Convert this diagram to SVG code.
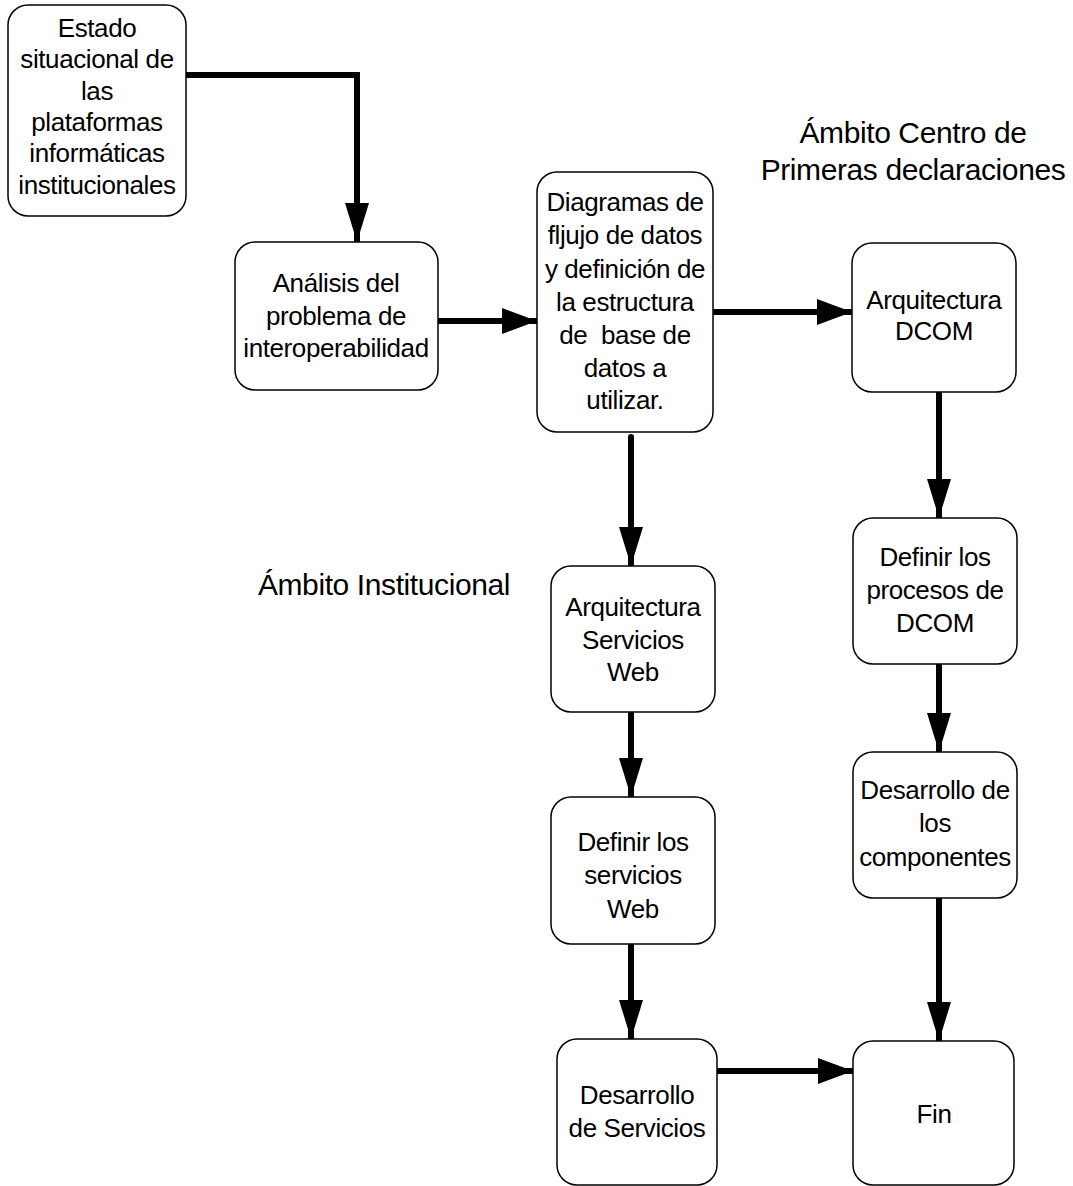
<svg xmlns="http://www.w3.org/2000/svg" width="1073" height="1186" viewBox="0 0 1073 1186">
<defs>
<style>
.box{fill:#fff;stroke:#000;stroke-width:1.5}
.t{font-family:"Liberation Sans",Arial,sans-serif;font-size:26px;letter-spacing:-0.4px;fill:#000;text-anchor:middle}
.h{font-family:"Liberation Sans",Arial,sans-serif;font-size:30px;letter-spacing:-0.4px;fill:#000;text-anchor:middle}
.c{fill:none;stroke:#000;stroke-width:6;stroke-linejoin:miter}
.cr{fill:none;stroke:#000;stroke-width:6;stroke-linecap:round}
</style>
<marker id="ah" markerUnits="userSpaceOnUse" markerWidth="36" markerHeight="26" refX="35" refY="13" orient="auto" viewBox="0 0 36 26">
<path d="M0,0 L35,13 L0,26 z" fill="#000"/>
</marker>
<marker id="av" markerUnits="userSpaceOnUse" markerWidth="40" markerHeight="24" refX="39" refY="12" orient="auto" viewBox="0 0 40 24">
<path d="M0,0 L39,12 L0,24 z" fill="#000"/>
</marker>
</defs>
<rect width="1073" height="1186" fill="#fff"/>
<g id="labels">
<text class="h" x="913" y="143">Ámbito Centro de</text>
<text class="h" x="913" y="180">Primeras declaraciones</text>
<text class="h" x="384" y="595">Ámbito Institucional</text>
</g>
<g id="connectors">
<path class="c" d="M186,75 H357 V242" marker-end="url(#av)"/>
<path class="c" d="M438,321 H537" marker-end="url(#ah)"/>
<path class="c" d="M713,312 H852" marker-end="url(#ah)"/>
<path class="cr" d="M631,437 V566" marker-end="url(#av)"/>
<path class="c" d="M939,392 V518" marker-end="url(#av)"/>
<path class="c" d="M939,664 V752" marker-end="url(#av)"/>
<path class="c" d="M631,712 V797" marker-end="url(#av)"/>
<path class="c" d="M631,944 V1039" marker-end="url(#av)"/>
<path class="c" d="M939,898 V1041" marker-end="url(#av)"/>
<path class="c" d="M717,1071 H853" marker-end="url(#ah)"/>
</g>
<g id="n1">
<rect class="box" x="8" y="5" width="178" height="211" rx="20"/>
<text class="t" x="97" y="37">Estado</text>
<text class="t" x="97" y="68">situacional de</text>
<text class="t" x="97" y="100">las</text>
<text class="t" x="97" y="131">plataformas</text>
<text class="t" x="97" y="162">informáticas</text>
<text class="t" x="97" y="194">institucionales</text>
</g>
<g id="n2">
<rect class="box" x="235" y="242" width="203" height="148" rx="20"/>
<text class="t" x="336" y="292">Análisis del</text>
<text class="t" x="336" y="325">problema de</text>
<text class="t" x="336" y="357">interoperabilidad</text>
</g>
<g id="n3">
<rect class="box" x="537" y="172" width="176" height="260" rx="20"/>
<text class="t" x="625" y="211">Diagramas de</text>
<text class="t" x="625" y="244">fljujo de datos</text>
<text class="t" x="625" y="278">y definición de</text>
<text class="t" x="625" y="311">la estructura</text>
<text class="t" x="625" y="344" xml:space="preserve">de  base de</text>
<text class="t" x="625" y="377">datos a</text>
<text class="t" x="625" y="409">utilizar.</text>
</g>
<g id="n4">
<rect class="box" x="852" y="243" width="164" height="149" rx="20"/>
<text class="t" x="934" y="309">Arquitectura</text>
<text class="t" x="934" y="340">DCOM</text>
</g>
<g id="n5">
<rect class="box" x="551" y="566" width="164" height="146" rx="20"/>
<text class="t" x="633" y="616">Arquitectura</text>
<text class="t" x="633" y="649">Servicios</text>
<text class="t" x="633" y="681">Web</text>
</g>
<g id="n6">
<rect class="box" x="853" y="518" width="164" height="146" rx="20"/>
<text class="t" x="935" y="566">Definir los</text>
<text class="t" x="935" y="599">procesos de</text>
<text class="t" x="935" y="632">DCOM</text>
</g>
<g id="n7">
<rect class="box" x="853" y="752" width="164" height="146" rx="20"/>
<text class="t" x="935" y="799">Desarrollo de</text>
<text class="t" x="935" y="832">los</text>
<text class="t" x="935" y="866">componentes</text>
</g>
<g id="n8">
<rect class="box" x="551" y="797" width="164" height="147" rx="20"/>
<text class="t" x="633" y="851">Definir los</text>
<text class="t" x="633" y="884">servicios</text>
<text class="t" x="633" y="918">Web</text>
</g>
<g id="n9">
<rect class="box" x="557" y="1039" width="160" height="146" rx="20"/>
<text class="t" x="637" y="1104">Desarrollo</text>
<text class="t" x="637" y="1137">de Servicios</text>
</g>
<g id="n10">
<rect class="box" x="853" y="1041" width="161" height="144" rx="20"/>
<text class="t" x="934" y="1123">Fin</text>
</g>
</svg>
